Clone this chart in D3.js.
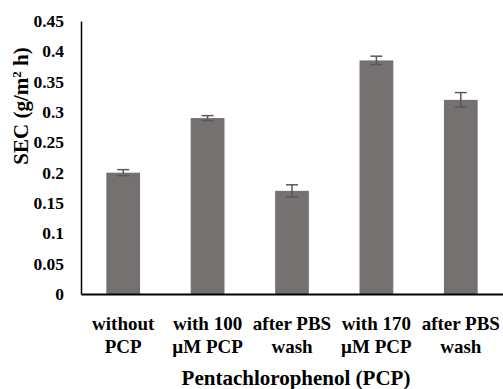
<!DOCTYPE html>
<html>
<head>
<meta charset="utf-8">
<script src="https://cdn.jsdelivr.net/npm/d3@7"></script>
<style>
  body { margin: 0; background: #fff; }
  svg { display: block; }
</style>
</head>
<body>
<div id="chart"></div>
<script>
var categories = [["without", "PCP"], ["with 100", "\u00b5M PCP"], ["after PBS", "wash"], ["with 170", "\u00b5M PCP"], ["after PBS", "wash"]];
var values = [0.200, 0.290, 0.170, 0.385, 0.320];
var errors = [0.005, 0.004, 0.010, 0.007, 0.012];
var yTicks = [0, 0.05, 0.1, 0.15, 0.2, 0.25, 0.3, 0.35, 0.4, 0.45];
var yTickLabels = ["0", "0.05", "0.1", "0.15", "0.2", "0.25", "0.3", "0.35", "0.4", "0.45"];

var width = 503, height = 389;
var plotLeft = 81, plotRight = 503, plotTop = 21, plotBottom = 294;
var serif = "'Liberation Serif', 'Times New Roman', serif";

var svg = d3.select("#chart").append("svg")
  .attr("width", width)
  .attr("height", height);

function bold(sel, size) {
  sel.style("font-family", serif)
    .style("font-weight", "bold")
    .style("font-size", size + "px")
    .style("fill", "#000");
}

var x = d3.scaleBand()
  .domain(d3.range(categories.length))
  .range([plotLeft, plotRight])
  .paddingInner(0.6)
  .paddingOuter(0.3);

var y = d3.scaleLinear()
  .domain([0, 0.45])
  .range([plotBottom, plotTop]);

// bars
svg.selectAll("rect.bar")
  .data(values)
  .enter().append("rect")
  .attr("class", "bar")
  .attr("x", function(d, i) { return x(i); })
  .attr("y", function(d) { return y(d); })
  .attr("width", x.bandwidth())
  .attr("height", function(d) { return y(0) - y(d); })
  .attr("fill", "#767171");

// error bars
var eb = svg.selectAll("g.err")
  .data(values)
  .enter().append("g")
  .attr("class", "err")
  .attr("stroke", "#595959")
  .attr("stroke-width", 1.5);

eb.append("line")
  .attr("x1", function(d, i) { return x(i) + x.bandwidth() / 2; })
  .attr("x2", function(d, i) { return x(i) + x.bandwidth() / 2; })
  .attr("y1", function(d, i) { return y(d + errors[i]); })
  .attr("y2", function(d, i) { return y(d - errors[i]); });

[1, -1].forEach(function(s) {
  eb.append("line")
    .attr("x1", function(d, i) { return x(i) + x.bandwidth() / 2 - 6; })
    .attr("x2", function(d, i) { return x(i) + x.bandwidth() / 2 + 6; })
    .attr("y1", function(d, i) { return y(d + s * errors[i]); })
    .attr("y2", function(d, i) { return y(d + s * errors[i]); });
});

// y axis
var yAxis = svg.append("g")
  .attr("transform", "translate(" + plotLeft + ",0)")
  .call(d3.axisLeft(y)
    .tickValues(yTicks)
    .tickSize(0)
    .tickPadding(17)
    .tickFormat(function(d, i) { return yTickLabels[i]; }));
yAxis.select(".domain").attr("stroke", "#000").attr("stroke-width", 1.5);
yAxis.selectAll("text").call(bold, 17.5);

// x axis
var xAxis = svg.append("g")
  .attr("transform", "translate(0," + plotBottom + ")")
  .call(d3.axisBottom(x).tickSize(0).tickFormat(""));
xAxis.select(".domain").attr("stroke", "#000").attr("stroke-width", 2);

xAxis.selectAll(".tick").each(function(d) {
  var t = d3.select(this).append("text")
    .attr("text-anchor", "middle")
    .call(bold, 19);
  categories[d].forEach(function(line, k) {
    t.append("tspan").attr("x", 0).attr("y", 36 + k * 23).text(line);
  });
});

// axis titles
svg.append("text")
  .attr("x", (plotLeft + plotRight) / 2 + 4)
  .attr("y", 385)
  .attr("text-anchor", "middle")
  .call(bold, 21)
  .text("Pentachlorophenol (PCP)");

var yt = svg.append("text")
  .attr("transform", "translate(28,106) rotate(-90)")
  .attr("text-anchor", "middle")
  .call(bold, 21);
yt.append("tspan").text("SEC (g/m");
yt.append("tspan").attr("dy", -7).style("font-size", "13px").text("2");
yt.append("tspan").attr("dy", 7).text(" h)");
</script>
</body>
</html>
